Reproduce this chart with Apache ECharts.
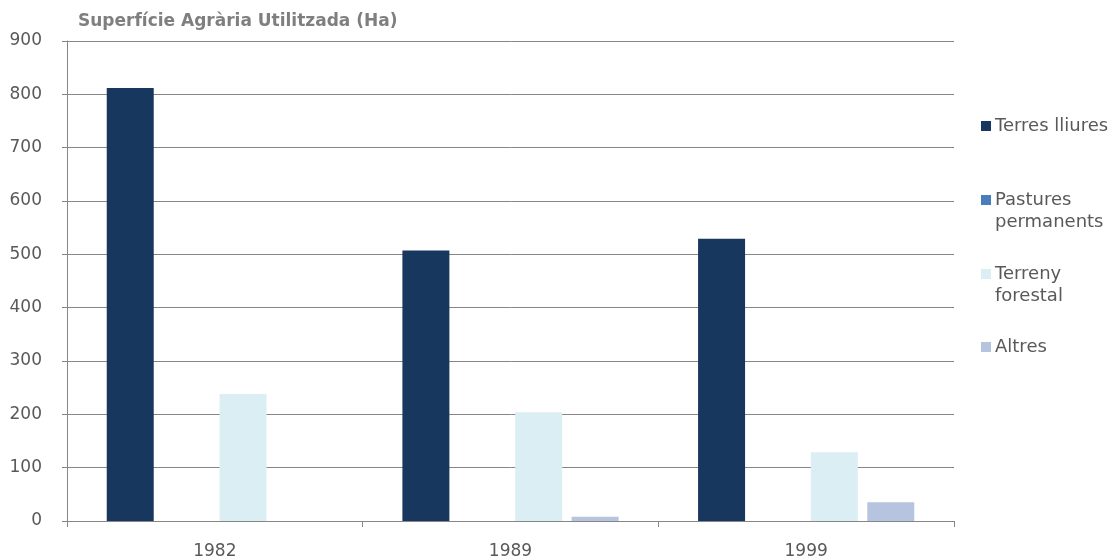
<!DOCTYPE html>
<html>
<head>
<meta charset="utf-8">
<script src="https://cdn.jsdelivr.net/npm/echarts@6/dist/echarts.min.js"></script>
<style>html,body{margin:0;padding:0;background:#fff}#c{width:1120px;height:560px}</style>
</head>
<body>
<div id="c"></div>
<script>
const categories = ['1982', '1989', '1999'];
const terresLliures = [812, 507, 529];
const pasturesPermanents = [0, 0, 0];
const terrenyForestal = [238, 204, 129];
const altres = [0, 8, 35];
const seriesNames = ['Terres lliures', 'Pastures permanents', 'Terreny forestal', 'Altres'];
const legendLabels = ['Terres lliures', 'Pastures\npermanents', 'Terreny\nforestal', 'Altres'];
const colors = ['#17375E', '#4A7EBB', '#DBEEF4', '#B7C4DF'];
const FONT = 'DejaVu Sans';

const chart = echarts.init(document.getElementById('c'), null, {renderer: 'canvas'});
const values = [terresLliures, pasturesPermanents, terrenyForestal, altres];
const legendCenters = [126, 200, 274, 347];

const legends = seriesNames.map((name, i) => {
  const twoLine = legendLabels[i].indexOf('\n') >= 0;
  return {
    data: [name],
    orient: 'vertical',
    left: 981,
    top: twoLine ? legendCenters[i] - 33 : legendCenters[i] - 11,
    padding: 0,
    itemWidth: 10,
    itemHeight: 10,
    itemGap: 0,
    icon: 'rect',
    selectedMode: false,
    formatter: () => (twoLine ? ' \n' : '') + legendLabels[i],
    textStyle: {
      fontFamily: FONT,
      fontSize: 18,
      color: '#595959',
      lineHeight: 22,
      padding: [0, 0, 0, -1]
    }
  };
});

chart.setOption({
  animation: false,
  backgroundColor: '#fff',
  title: {
    text: 'Superfície Agrària Utilitzada (Ha)',
    left: 78,
    top: 13,
    padding: 0,
    textStyle: {fontFamily: FONT, fontSize: 17, fontWeight: 'bold', color: '#7F7F7F'}
  },
  legend: legends,
  grid: {left: 67, right: 166, top: 41, bottom: 39, containLabel: false},
  xAxis: {
    type: 'category',
    data: categories,
    axisLine: {lineStyle: {color: '#868686', width: 1}},
    axisTick: {show: true, length: 6, lineStyle: {color: '#868686'}},
    axisLabel: {fontFamily: FONT, fontSize: 17, color: '#595959', margin: 22}
  },
  yAxis: {
    type: 'value',
    min: 0,
    max: 900,
    interval: 100,
    axisLine: {show: true, lineStyle: {color: '#868686', width: 1}},
    axisTick: {show: true, length: 5, lineStyle: {color: '#868686'}},
    axisLabel: {fontFamily: FONT, fontSize: 17, color: '#595959', margin: 25},
    splitLine: {lineStyle: {color: '#868686', width: 1}}
  },
  series: seriesNames.map((name, i) => ({
    name: name,
    type: 'bar',
    data: values[i],
    barWidth: 47,
    barGap: '20%',
    itemStyle: {color: colors[i]}
  }))
});
</script>
</body>
</html>
